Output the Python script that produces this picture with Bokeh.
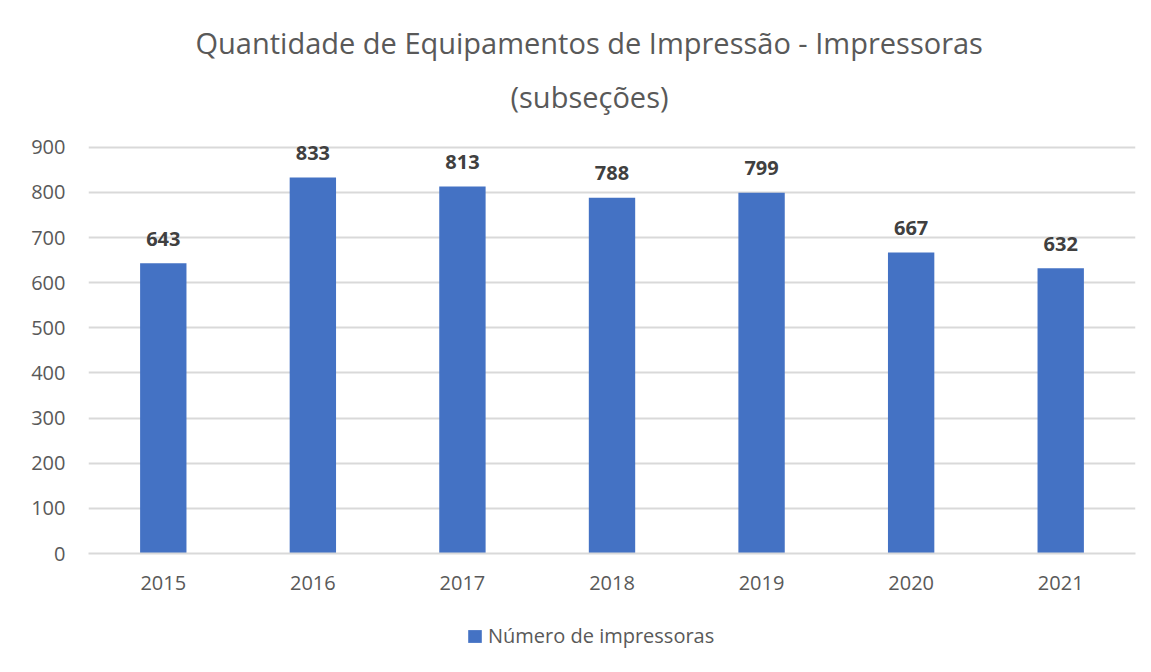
from bokeh.plotting import figure
from bokeh.layouts import column
from bokeh.models import Title, Legend, LegendItem, ColumnDataSource, FactorRange, LabelSet
from bokeh.core.properties import value
from bokeh.embed import file_html
from bokeh.resources import INLINE

years = ["2015", "2016", "2017", "2018", "2019", "2020", "2021"]
impressoras = [643, 833, 813, 788, 799, 667, 632]
series_name = "Número de impressoras"
title_line1 = "Quantidade de Equipamentos de Impressão - Impressoras"
title_line2 = "(subseções)"
y_ticks = [0, 100, 200, 300, 400, 500, 600, 700, 800, 900]

FONT = "Open Sans"
TXT = "#595959"
GRID = "#d9d9d9"
BAR = "#4472C4"
W = 1148

src = ColumnDataSource(dict(x=years, y=impressoras, lab=[str(v) for v in impressoras]))
xr = FactorRange(*years)

p = figure(x_range=xr, y_range=(0, 915), width=W, height=612,
           title=None, output_backend="svg", toolbar_location=None,
           min_border_left=88, min_border_right=13, min_border_top=140, min_border_bottom=59)
p.outline_line_color = None
p.background_fill_color = "white"
p.border_fill_color = "white"

p.vbar(x="x", top="y", width=0.31, source=src, fill_color=BAR, line_color=None)

p.add_layout(LabelSet(x="x", y="y", text="lab", source=src, text_align="center",
                      text_baseline="middle", y_offset=24.5, text_font=value(FONT),
                      text_font_style="bold", text_font_size="20px", text_color="#404040"))

# axes
p.yaxis.ticker = y_ticks
p.yaxis.axis_line_color = None
p.yaxis.major_tick_line_color = None
p.yaxis.minor_tick_line_color = None
p.yaxis.major_label_standoff = 17
p.yaxis.major_label_text_font = FONT
p.yaxis.major_label_text_font_size = "20px"
p.yaxis.major_label_text_color = TXT

p.xaxis.axis_line_color = GRID
p.xaxis.axis_line_width = 2
p.xaxis.major_tick_line_color = None
p.xaxis.minor_tick_line_color = None
p.xaxis.major_label_standoff = 16
p.xaxis.major_label_text_font = FONT
p.xaxis.major_label_text_font_size = "20px"
p.xaxis.major_label_text_color = TXT

p.xgrid.grid_line_color = None
p.ygrid.grid_line_color = GRID
p.ygrid.grid_line_width = 2

# title (two lines): first added is closest to the plot
p.add_layout(Title(text=title_line2, align="left", offset=422, standoff=50,
                   text_font=FONT, text_font_size="29px", text_font_style="normal",
                   text_color=TXT), "above")
p.add_layout(Title(text=title_line1, align="left", offset=107, standoff=-24,
                   text_font=FONT, text_font_size="29px", text_font_style="normal",
                   text_color=TXT), "above")

# legend strip below the chart (its bars lie outside its view; only the swatch shows)
lf = figure(width=W, height=53, x_range=xr, y_range=(10000, 10001),
            x_axis_type=None, y_axis_type=None, output_backend="svg", toolbar_location=None,
            min_border=0, min_border_left=88, min_border_right=13)
lf.outline_line_color = None
lf.xgrid.grid_line_color = None
lf.ygrid.grid_line_color = None
lf.border_fill_color = "white"
swatch = lf.vbar(x="x", top="y", width=0.31, source=src, fill_color=BAR, line_color=None)
legend = Legend(items=[LegendItem(label=series_name, renderers=[swatch])],
                location=(378, 16), orientation="horizontal",
                glyph_width=17, glyph_height=16, label_height=20, label_standoff=5,
                padding=0, margin=0, spacing=0, border_line_color=None,
                background_fill_alpha=0,
                label_text_font=FONT, label_text_font_size="20px", label_text_color=TXT)
lf.add_layout(legend, "center")

layout = column(p, lf, spacing=0)
open("out.html", "w").write(file_html(layout, INLINE))
